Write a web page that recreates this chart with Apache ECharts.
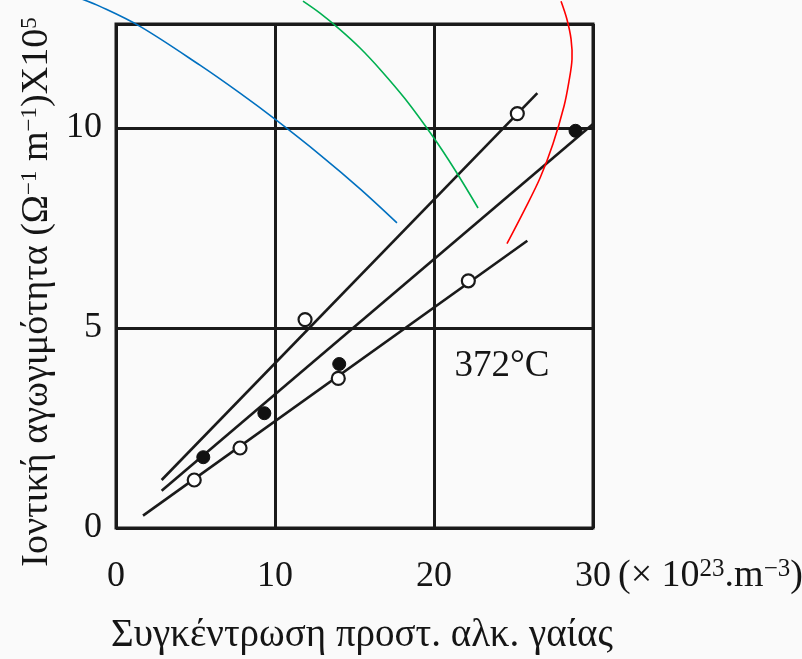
<!DOCTYPE html>
<html>
<head>
<meta charset="utf-8">
<script src="https://cdn.jsdelivr.net/npm/echarts@6/dist/echarts.min.js"></script>
<style>html,body{margin:0;padding:0;background:#fafafa;}#c{width:802px;height:659px;}</style>
</head>
<body>
<div id="c"></div>
<script>
// Fitted straight lines (endpoints)
const lineAx = [2.87, 26.5],  lineAy = [1.2, 10.87];
const lineBx = [2.87, 30.0],  lineBy = [0.93, 10.1];
const lineCx = [1.7, 25.87],  lineCy = [0.31, 7.18];
// Measured points
const openX = [11.89, 25.24, 4.92, 7.8, 13.98, 22.16];
const openY = [5.21, 10.36, 1.2, 2.0, 3.74, 6.18];
const filledX = [5.49, 9.33, 14.04, 28.9];
const filledY = [1.77, 2.87, 4.1, 9.93];
// Hand-drawn coloured curves (data coordinates, partly outside the plot)
const blueX = [-2.26, -1.01, 1.51, 5.28, 7.8, 10.0, 12.83, 15.35, 17.67];
const blueY = [13.24, 13.04, 12.54, 11.57, 10.87, 10.22, 9.33, 8.48, 7.63];
const greenX = [11.76, 12.83, 14.09, 15.35, 16.6, 18.18, 19.94, 21.32, 22.77];
const greenY = [13.17, 12.87, 12.46, 12.0, 11.47, 10.73, 9.78, 8.95, 8.0];
const redX = [27.99, 28.36, 28.62, 28.68, 28.49, 28.18, 27.48, 26.67, 25.66, 24.59];
const redY = [13.17, 12.72, 12.22, 11.72, 11.17, 10.55, 9.6, 8.75, 7.93, 7.11];
// Axis ticks and annotation
const xTicks = [0, 10, 20, 30];
const yTicks = [0, 5, 10];
const tempLabel = '372°C';
const tempPos = [24.28, 4.04];

const zip = (xs, ys) => xs.map((x, i) => [x, ys[i]]);
const FONT = '"Liberation Serif", "DejaVu Serif", serif';
const INK = '#1a1a1a';
const TXT = '#151515';

const chart = echarts.init(document.getElementById('c'), null, {renderer: 'canvas'});
const supStyle = {fontFamily: FONT, fontSize: 23, fill: TXT, verticalAlign: 'top', padding: [0, 0, 15, 0]};
const supStyle2 = {fontFamily: FONT, fontSize: 25, fill: TXT, verticalAlign: 'top', padding: [0, 0, 14, 0]};
const option = {
  backgroundColor: '#fafafa',
  animation: false,
  grid: {left: 116, right: 209, top: 24, bottom: 131, show: true, borderColor: INK, borderWidth: 3, backgroundColor: 'transparent'},
  xAxis: {
    type: 'value', min: 0, max: 30, interval: 10,
    axisLine: {show: false}, axisTick: {show: false},
    splitLine: {show: true, lineStyle: {color: INK, width: 3}},
    axisLabel: {margin: 31, fontFamily: FONT, fontSize: 36, color: TXT,
      formatter: v => xTicks.includes(v) ? String(v) : ''}
  },
  yAxis: {
    type: 'value', min: 0, max: 12.6, interval: 5,
    axisLine: {show: false}, axisTick: {show: false},
    splitLine: {show: true, lineStyle: {color: INK, width: 3}},
    axisLabel: {margin: 14, fontFamily: FONT, fontSize: 36, color: TXT, showMaxLabel: false,
      formatter: v => yTicks.includes(v) ? String(v) : ''}
  },
  series: [
    {type: 'line', data: zip(lineAx, lineAy), symbol: 'none', lineStyle: {color: INK, width: 2.6}, z: 3},
    {type: 'line', data: zip(lineBx, lineBy), symbol: 'none', lineStyle: {color: INK, width: 2.6}, z: 3},
    {type: 'line', data: zip(lineCx, lineCy), symbol: 'none', lineStyle: {color: INK, width: 2.6}, z: 3},
    {type: 'scatter', data: zip(openX, openY), symbol: 'circle', symbolSize: 13,
      itemStyle: {color: '#ffffff', borderColor: INK, borderWidth: 2.2, opacity: 1}, z: 5},
    {type: 'scatter', data: zip(filledX, filledY), symbol: 'circle', symbolSize: 13,
      itemStyle: {color: '#111111', borderColor: '#111111', borderWidth: 1, opacity: 1}, z: 5},
    {type: 'scatter', data: [tempPos], symbolSize: 0, silent: true, itemStyle: {opacity: 1},
      label: {show: true, position: 'inside', formatter: tempLabel, fontFamily: FONT, fontSize: 37, color: TXT}, z: 6}
  ],
  graphic: [
    {type: 'text', left: 618, top: 557, style: {
      text: '(× 10{s|23}.m{s|−3})', fontFamily: FONT, fontSize: 38, fill: TXT,
      rich: {s: supStyle2}
    }},
    {type: 'text', x: 362, y: 636, style: {
      text: 'Συγκέντρωση προστ. αλκ. γαίας', fontFamily: FONT, fontSize: 39, fill: TXT,
      align: 'center', verticalAlign: 'middle'
    }},
    {type: 'text', x: 37, y: 292, rotation: Math.PI / 2, style: {
      text: 'Ιοντική αγωγιμότητα (Ω{s|−1} m{s|−1})X10{s|5}', fontFamily: FONT, fontSize: 38, fill: TXT,
      align: 'center', verticalAlign: 'middle',
      rich: {s: supStyle}
    }}
  ]
};
chart.setOption(option);

// Coloured hand-drawn curves, positioned through the chart's own scales
const toPx = (xs, ys) => xs.map((x, i) => chart.convertToPixel({gridIndex: 0}, [x, ys[i]]));
const curves = [
  {xs: blueX, ys: blueY, color: '#0070C0'},
  {xs: greenX, ys: greenY, color: '#00B050'},
  {xs: redX, ys: redY, color: '#FF0000'}
];
chart.setOption({
  graphic: option.graphic.concat(curves.map(c => ({
    type: 'polyline', z: 100, silent: true,
    shape: {points: toPx(c.xs, c.ys), smooth: 0.35},
    style: {stroke: c.color, lineWidth: 1.6, fill: null}
  })))
});
</script>
</body>
</html>
